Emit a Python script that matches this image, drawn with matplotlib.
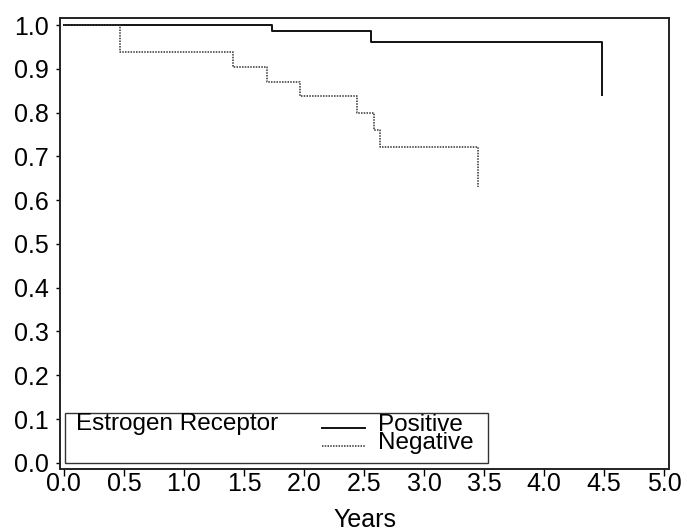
import matplotlib
matplotlib.use("Agg")
import matplotlib.pyplot as plt
from matplotlib.patches import Rectangle

# Kaplan-Meier style step data (years, survival)
pos_years = [0.0, 1.73, 2.56, 4.48, 4.48]
pos_surv = [1.0, 0.986, 0.961, 0.961, 0.84]
neg_years = [0.0, 0.47, 1.41, 1.69, 1.97, 2.44, 2.58, 2.63, 3.45, 3.45]
neg_surv = [1.0, 0.938, 0.904, 0.870, 0.838, 0.80, 0.761, 0.722, 0.722, 0.629]

xticks = [0.0, 0.5, 1.0, 1.5, 2.0, 2.5, 3.0, 3.5, 4.0, 4.5, 5.0]
xticklabels = ["0.0", "0.5", "1.0", "1.5", "2.0", "2.5", "3.0", "3.5", "4.0", "4.5", "5.0"]
yticks = [0.0, 0.1, 0.2, 0.3, 0.4, 0.5, 0.6, 0.7, 0.8, 0.9, 1.0]
yticklabels = ["0.0", "0.1", "0.2", "0.3", "0.4", "0.5", "0.6", "0.7", "0.8", "0.9", "1.0"]
legend_title = "Estrogen Receptor"
series_labels = ["Positive", "Negative"]
xlabel = "Years"

plt.rcParams['font.family'] = ['Liberation Sans', 'DejaVu Sans']

fig = plt.figure(figsize=(6.87, 5.31), dpi=100)
ax = fig.add_axes([0.0873, 0.1168, 0.9738 - 0.0873, 0.9661 - 0.1168])

lp, = ax.step(pos_years, pos_surv, where='post', color='#111111', lw=1.4, label=series_labels[0])
ln, = ax.step(neg_years, neg_surv, where='post', color='#333333', lw=1.1,
              linestyle=(0, (1, 0.8)), label=series_labels[1])

ax.set_xlim(-0.033, 5.04)
ax.set_ylim(-0.014, 1.016)
ax.set_xticks(xticks)
ax.set_xticklabels(xticklabels)
ax.set_yticks(yticks)
ax.set_yticklabels(yticklabels)
ax.tick_params(axis='x', direction='out', length=5, width=1, labelsize=18, pad=-3)
ax.tick_params(axis='y', direction='out', length=3, width=1, labelsize=18, pad=5)
for s in ax.spines.values():
    s.set_linewidth(1.4)
    s.set_color('#222222')
ax.set_xlabel(xlabel, fontsize=18, labelpad=9)

# legend box
ax.add_patch(Rectangle((0.0085, 0.0133), 0.6935, 0.1109, transform=ax.transAxes,
                       fill=False, lw=1.0, edgecolor='#333333'))
ax.text(0.027, 0.124, legend_title, transform=ax.transAxes, fontsize=17.5,
        ha='left', va='top')

# legend labels, stacked tightly as in the original
ax.text(0.522, 0.122, "\n".join(series_labels), transform=ax.transAxes,
        fontsize=17.5, ha='left', va='top', linespacing=0.78)
# legend sample lines (handle part)
leg_lines = ax.legend(handles=[lp, ln], labels=["", ""], loc='upper left',
                      bbox_to_anchor=(0.431, 0.109), frameon=False, fontsize=17.5,
                      handlelength=1.77, handletextpad=0.0, labelspacing=-0.17,
                      borderpad=0.0, borderaxespad=0.0)

fig.savefig("out.png", dpi=100)
